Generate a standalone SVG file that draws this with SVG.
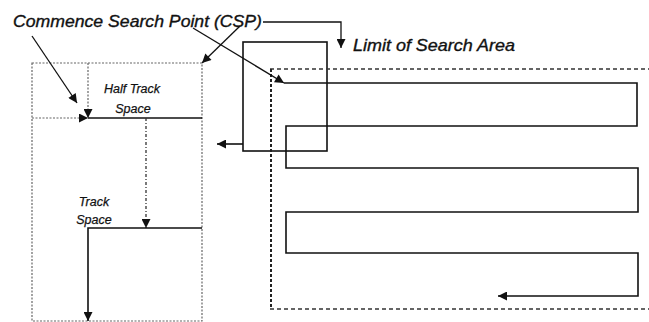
<svg xmlns="http://www.w3.org/2000/svg" width="649" height="322" viewBox="0 0 649 322">
<defs>
<marker id="ah" viewBox="0 0 10 10" refX="10" refY="5" markerWidth="10" markerHeight="9" markerUnits="userSpaceOnUse" orient="auto">
<path d="M0,0 L10,5 L0,10 Z" fill="#111"/>
</marker>
</defs>
<style>
.lbl{font-family:"Liberation Sans",Arial,sans-serif;font-style:italic;fill:#111;stroke:#111;stroke-width:0.35}
.big{font-size:17px}
.sm{font-size:12.5px;stroke-width:0.25}
.solid{fill:none;stroke:#111;stroke-width:1.6}
.thin{fill:none;stroke:#111;stroke-width:1.3}
.gdot{fill:none;stroke:#666;stroke-width:1.2;stroke-dasharray:2 1.5}
.dashdot{fill:none;stroke:#333;stroke-width:1.3;stroke-dasharray:3 2 1 2}
.area{fill:none;stroke:#333;stroke-width:1.5;stroke-dasharray:4 3}
.areaL{fill:none;stroke:#222;stroke-width:2;stroke-dasharray:3 2}
</style>
<rect width="649" height="322" fill="#fff"/>

<g id="csp-label">
<text class="lbl big" x="13" y="27" textLength="249" lengthAdjust="spacingAndGlyphs">Commence Search Point (CSP)</text>
</g>
<g id="limit-label">
<text class="lbl big" x="353" y="51" textLength="162" lengthAdjust="spacingAndGlyphs">Limit of Search Area</text>
</g>

<g id="left-box">
<rect class="gdot" x="32" y="63" width="170" height="258"/>
<line class="gdot" x1="32" y1="118" x2="82" y2="118"/>
<text class="lbl sm" x="132" y="93" text-anchor="middle">Half Track</text>
<text class="lbl sm" x="133" y="113" text-anchor="middle">Space</text>
<text class="lbl sm" x="94" y="206" text-anchor="middle">Track</text>
<text class="lbl sm" x="94" y="224" text-anchor="middle">Space</text>
</g>

<g id="middle-box">
<rect class="solid" x="243" y="42" width="84" height="109"/>
</g>

<g id="search-area">
<line class="area" x1="270" y1="69" x2="649" y2="69"/>
<line class="area" x1="270" y1="309" x2="649" y2="309"/>
<line class="areaL" x1="271" y1="69" x2="271" y2="309"/>
</g>

<g id="connectors">
<path class="thin" d="M263,22 H341 V48" marker-end="url(#ah)"/>
<line class="thin" x1="32" y1="36" x2="77" y2="103" marker-end="url(#ah)"/>
<line class="thin" x1="240" y1="26" x2="202" y2="63" marker-end="url(#ah)"/>
<line class="thin" x1="193" y1="28" x2="284" y2="83" marker-end="url(#ah)"/>
<line class="gdot" x1="82" y1="118" x2="88" y2="118" marker-end="url(#ah)"/>
<line class="gdot" x1="88" y1="63" x2="88" y2="118" marker-end="url(#ah)"/>
<line class="solid" x1="88" y1="118" x2="202" y2="118"/>
<line class="dashdot" x1="146" y1="118" x2="146" y2="228" marker-end="url(#ah)"/>
<path class="solid" d="M202,228 H88 V321" marker-end="url(#ah)"/>
<line class="solid" x1="243" y1="144" x2="217" y2="144" marker-end="url(#ah)"/>
<path class="solid" d="M284,83 H637 V126 H286 V168 H638 V212 H286 V253 H638 V296 H498" marker-end="url(#ah)"/>
</g>
</svg>
